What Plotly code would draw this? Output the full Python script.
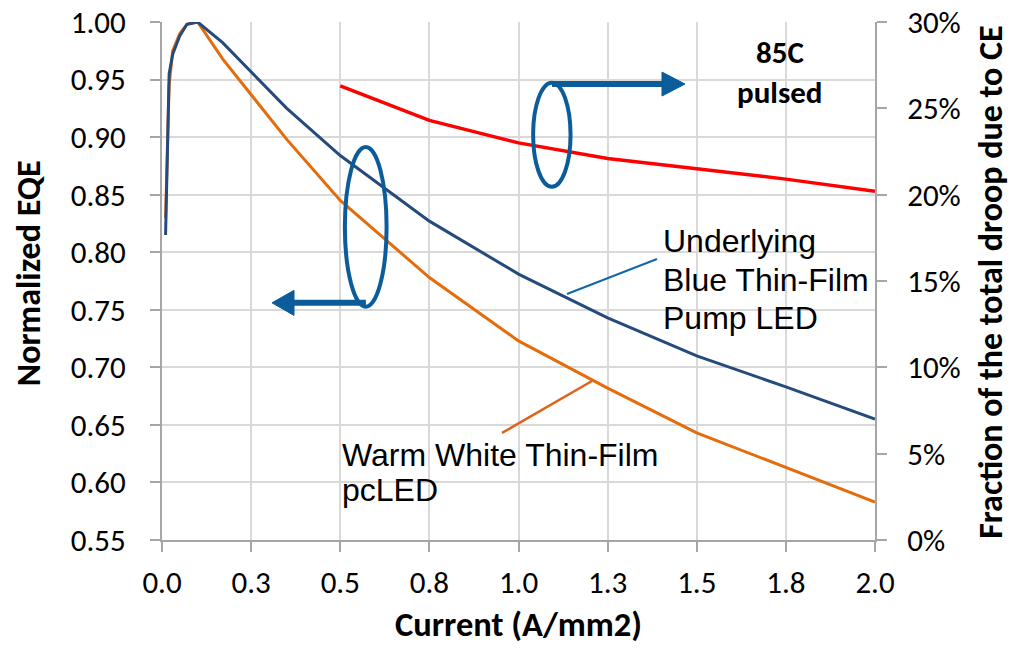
import plotly.graph_objects as go

# ---------------- data ----------------
x_curve = [0.01, 0.02, 0.03, 0.05, 0.07, 0.10, 0.17, 0.35, 0.50, 0.75, 1.00, 1.25, 1.50, 1.75, 2.00]
blue_eqe = [0.815, 0.955, 0.972, 0.988, 0.998, 1.000, 0.982, 0.925, 0.884, 0.827, 0.781, 0.743, 0.710, 0.683, 0.655]
orange_eqe = [0.830, 0.945, 0.975, 0.990, 0.998, 1.000, 0.968, 0.898, 0.845, 0.778, 0.723, 0.682, 0.643, 0.613, 0.583]

x_frac = [0.50, 0.75, 1.00, 1.25, 1.50, 1.75, 2.00]
ce_fraction = [0.263, 0.243, 0.230, 0.221, 0.215, 0.209, 0.202]

x_tickvals = [0, 0.25, 0.5, 0.75, 1.0, 1.25, 1.5, 1.75, 2.0]
x_ticktext = ["0.0", "0.3", "0.5", "0.8", "1.0", "1.3", "1.5", "1.8", "2.0"]

NAVY = "#254A7C"
ORANGE = "#E46C0A"
RED = "#FF0000"
MARK = "#0B5C9A"
AXIS = "#A6A6A6"
GRID = "#D9D9D9"
TICKFONT = dict(family="Carlito, Lato, sans-serif", size=31, color="#000000")
TITLEFONT = dict(family="Carlito, Lato, sans-serif", size=34, color="#000000")
XTITLEFONT = dict(family="Carlito, Lato, sans-serif", size=34.5, color="#000000")
ANNFONT = dict(family="Liberation Sans, Arial, sans-serif", size=32, color="#000000")
BOLD = dict(family="Carlito, Lato, sans-serif", size=31, color="#000000")

fig = go.Figure()
fig.add_trace(go.Scatter(x=x_curve, y=orange_eqe, mode="lines",
                         line=dict(color=ORANGE, width=3), showlegend=False))
fig.add_trace(go.Scatter(x=x_curve, y=blue_eqe, mode="lines",
                         line=dict(color=NAVY, width=3), showlegend=False))
fig.add_trace(go.Scatter(x=x_frac, y=ce_fraction, mode="lines", yaxis="y2",
                         line=dict(color=RED, width=3.5), showlegend=False))

shapes = []
# ellipses
shapes.append(dict(type="circle", xref="x", yref="y", x0=0.513, x1=0.630, y0=0.7527, y1=0.8914,
                   line=dict(color=MARK, width=4)))
shapes.append(dict(type="circle", xref="x", yref="y", x0=1.041, x1=1.146, y0=0.8569, y1=0.9473,
                   line=dict(color=MARK, width=4)))
# left arrow
shapes.append(dict(type="line", xref="x", yref="y", x0=0.572, x1=0.365, y0=0.7560, y1=0.7560,
                   line=dict(color=MARK, width=6)))
shapes.append(dict(type="path", xref="x", yref="y",
                   path="M 0.3703 0.7451 L 0.3086 0.7560 L 0.3703 0.7669 Z",
                   fillcolor=MARK, line=dict(color=MARK, width=1)))
# right arrow
shapes.append(dict(type="line", xref="x", yref="y", x0=1.094, x1=1.407, y0=0.9461, y1=0.9461,
                   line=dict(color=MARK, width=6)))
shapes.append(dict(type="path", xref="x", yref="y",
                   path="M 1.4025 0.9357 L 1.467 0.9461 L 1.4025 0.9565 Z",
                   fillcolor=MARK, line=dict(color=MARK, width=1)))
# pointer lines
shapes.append(dict(type="line", xref="x", yref="y", x0=1.136, y0=0.7637, x1=1.3885, y1=0.7941,
                   line=dict(color="#1068A8", width=2)))
shapes.append(dict(type="line", xref="x", yref="y", x0=0.9537, y0=0.6430, x1=1.206, y1=0.6881,
                   line=dict(color="#DD631A", width=2.5)))

annotations = []
def txt(t, x, y, xanchor="left", font=ANNFONT):
    annotations.append(dict(text=t, x=x, y=y, xref="x", yref="y", showarrow=False,
                            xanchor=xanchor, yanchor="middle", font=font))

txt("Underlying", 1.400, 0.8098)
txt("Blue Thin-Film", 1.400, 0.7759)
txt("Pump LED", 1.400, 0.7429)
txt("Warm White Thin-Film", 0.498, 0.6240)
txt("pcLED", 0.498, 0.5935)
txt("<b>85C</b>", 1.7335, 0.9739, xanchor="center", font=BOLD)
txt("<b>pulsed</b>", 1.7335, 0.9392, xanchor="center", font=BOLD)

# axis titles
annotations.append(dict(text="<b>Normalized EQE</b>", xref="paper", yref="paper", x=-0.1880, y=0.515,
                        showarrow=False, textangle=-90, xanchor="center", yanchor="middle", font=TITLEFONT))
annotations.append(dict(text="<b>Current (A/mm2)</b>", xref="paper", yref="paper", x=0.500, y=-0.162,
                        showarrow=False, xanchor="center", yanchor="middle", font=XTITLEFONT))
annotations.append(dict(text="<b>Fraction of the total droop due to CE</b>", xref="paper", yref="paper",
                        x=1.161, y=0.498, showarrow=False, textangle=-90, xanchor="center",
                        yanchor="middle", font=TITLEFONT))

fig.update_layout(
    width=1019, height=649,
    margin=dict(l=162, r=144, t=22, b=109, autoexpand=False),
    paper_bgcolor="white", plot_bgcolor="white",
    shapes=shapes, annotations=annotations,
    xaxis=dict(range=[0, 2.0], tickvals=x_tickvals, ticktext=x_ticktext,
               showgrid=True, gridcolor=GRID, gridwidth=1.5,
               showline=True, linecolor=AXIS, linewidth=2,
               ticks="outside", ticklen=10, tickcolor=AXIS, tickwidth=2,
               tickfont=TICKFONT, ticklabelstandoff=4, zeroline=False, automargin=False),
    yaxis=dict(range=[0.55, 1.0], dtick=0.05, tick0=0.55, tickformat=".2f",
               showgrid=True, gridcolor=GRID, gridwidth=1.5,
               showline=True, linecolor=AXIS, linewidth=2,
               ticks="outside", ticklen=10, tickcolor=AXIS, tickwidth=2,
               tickfont=TICKFONT, ticklabelstandoff=18, zeroline=False, automargin=False),
    yaxis2=dict(range=[0, 0.30], dtick=0.05, tick0=0, tickformat=".0%",
                overlaying="y", side="right", showgrid=False,
                showline=True, linecolor=AXIS, linewidth=2,
                ticks="outside", ticklen=10, tickcolor=AXIS, tickwidth=2,
                tickfont=TICKFONT, ticklabelstandoff=14, zeroline=False, automargin=False),
)

fig.write_html("out.html")
